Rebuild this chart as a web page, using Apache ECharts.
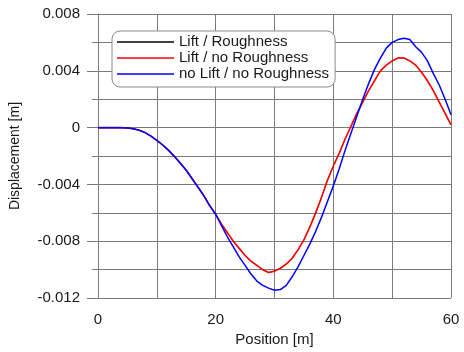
<!DOCTYPE html>
<html>
<head>
<meta charset="utf-8">
<script src="https://cdn.jsdelivr.net/npm/echarts@6/dist/echarts.min.js"></script>
<style>html,body{margin:0;padding:0;background:#fff}#c{width:464px;height:352px}</style>
</head>
<body>
<div id="c"></div>
<script>
var positions = [];
for (var i = 0; i <= 60; i++) positions.push(i);

var liftRoughness = [0,0,0,0,0,-0.00002,-0.00008,-0.00018,-0.00035,-0.0006,-0.0009,-0.00122,-0.0016,-0.00203,-0.0025,-0.003,-0.0036,-0.0042,-0.0048,-0.0055,-0.0061,-0.0068,-0.0074,-0.008,-0.0085,-0.009,-0.0094,-0.0097,-0.01,-0.0102,-0.0101,-0.0099,-0.0096,-0.0092,-0.0086,-0.0079,-0.007,-0.006,-0.0049,-0.0037,-0.0027,-0.0018,-0.0008,0.0001,0.001,0.0018,0.0026,0.0033,0.004,0.0044,0.0047,0.0049,0.0049,0.0047,0.0044,0.0039,0.0033,0.0026,0.0018,0.001,0.0002];

var liftNoRoughness = [0,0,0,0,0,-0.00002,-0.00008,-0.00018,-0.00035,-0.0006,-0.0009,-0.00122,-0.0016,-0.00203,-0.0025,-0.003,-0.0036,-0.0042,-0.0048,-0.0055,-0.0061,-0.0068,-0.0074,-0.008,-0.0085,-0.009,-0.0094,-0.0097,-0.01,-0.0102,-0.0101,-0.0099,-0.0096,-0.0092,-0.0086,-0.0079,-0.007,-0.006,-0.0049,-0.0037,-0.0027,-0.0018,-0.0008,0.0001,0.001,0.0018,0.0026,0.0033,0.004,0.0044,0.0047,0.0049,0.0049,0.0047,0.0044,0.0039,0.0033,0.0026,0.0018,0.001,0.0002];

var noLiftNoRoughness = [0,0,0,0,0,-0.00002,-0.00008,-0.00018,-0.00035,-0.0006,-0.0009,-0.00122,-0.0016,-0.00203,-0.0025,-0.003,-0.0036,-0.0042,-0.0048,-0.0055,-0.0061,-0.0069,-0.0077,-0.0084,-0.0091,-0.0097,-0.0103,-0.0108,-0.0111,-0.0113,-0.01145,-0.0114,-0.0111,-0.0105,-0.0098,-0.009,-0.0082,-0.0073,-0.0063,-0.0052,-0.0041,-0.0029,-0.0016,-0.0004,0.0008,0.002,0.0031,0.0041,0.0049,0.0056,0.006,0.0062,0.0063,0.0062,0.0057,0.0053,0.0047,0.0038,0.003,0.002,0.0009];

var seriesNames = ['Lift / Roughness', 'Lift / no Roughness', 'no Lift / no Roughness'];

function pairs(ys) { return positions.map(function (x, i) { return [x, ys[i]]; }); }

var chart = echarts.init(document.getElementById('c'), null, {renderer: 'canvas'});
var gridLine = {show: true, lineStyle: {color: '#7a7a7a', width: 1}};
chart.setOption({
  animation: false,
  textStyle: {fontFamily: 'Liberation Sans, Arial, sans-serif'},
  grid: {left: 96, right: 13, top: 14, bottom: 46, containLabel: false},
  legend: {
    data: seriesNames,
    orient: 'vertical',
    left: 112, top: 31,
    icon: 'rect',
    itemWidth: 57, itemHeight: 1.5,
    itemGap: 0,
    padding: [3, 6, 5, 5],
    backgroundColor: '#fff',
    borderColor: '#8a8a8a', borderWidth: 1, borderRadius: 8,
    textStyle: {fontSize: 15, color: '#1a1a1a', lineHeight: 16}
  },
  xAxis: {
    type: 'value', min: 0, max: 60, interval: 20,
    name: 'Position [m]', nameLocation: 'middle', nameGap: 29,
    nameTextStyle: {fontSize: 15, color: '#1a1a1a'},
    axisLine: {show: true, lineStyle: {color: '#7a7a7a'}},
    axisTick: {show: true, length: 8, lineStyle: {color: '#7a7a7a'}},
    minorTick: {show: true, splitNumber: 2, length: 5, lineStyle: {color: '#7a7a7a'}},
    splitLine: gridLine,
    minorSplitLine: gridLine,
    axisLabel: {fontSize: 15, color: '#1a1a1a', margin: 14}
  },
  yAxis: {
    type: 'value', min: -0.012, max: 0.008, interval: 0.004,
    name: 'Displacement [m]', nameLocation: 'middle', nameGap: 76,
    nameTextStyle: {fontSize: 14, color: '#1a1a1a'},
    axisLine: {show: true, lineStyle: {color: '#7a7a7a'}},
    axisTick: {show: true, length: 11, lineStyle: {color: '#7a7a7a'}},
    minorTick: {show: true, splitNumber: 2, length: 6, lineStyle: {color: '#7a7a7a'}},
    splitLine: gridLine,
    minorSplitLine: gridLine,
    axisLabel: {fontSize: 15, color: '#1a1a1a', margin: 18,
      formatter: function (v) { var r = Math.round(v * 1000) / 1000; return r === 0 ? '0' : r.toFixed(3); }}
  },
  series: [
    {name: seriesNames[0], type: 'line', data: pairs(liftRoughness), showSymbol: false, color: '#000000', lineStyle: {width: 0.8}},
    {name: seriesNames[1], type: 'line', data: pairs(liftNoRoughness), showSymbol: false, color: '#ff0000', lineStyle: {width: 1.6}},
    {name: seriesNames[2], type: 'line', data: pairs(noLiftNoRoughness), showSymbol: false, color: '#0000ff', lineStyle: {width: 1.5}}
  ]
});
</script>
</body>
</html>
